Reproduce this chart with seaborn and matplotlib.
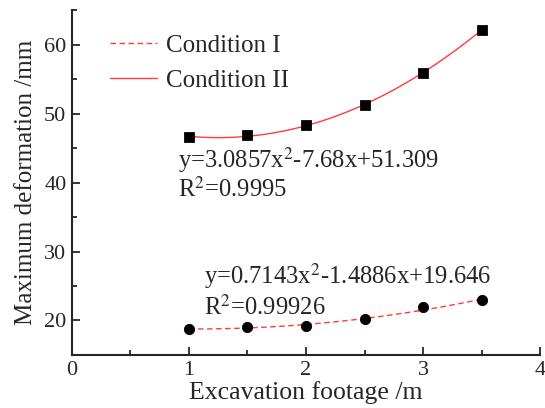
import numpy as np
import pandas as pd
import matplotlib
matplotlib.use("Agg")
import matplotlib.pyplot as plt
import seaborn as sns
from matplotlib.ticker import MultipleLocator

# Data
footage = [1.0, 1.5, 2.0, 2.5, 3.0, 3.5]
cond1 = [18.8, 19.0, 19.2, 20.2, 21.9, 22.9]
cond2 = [46.6, 46.9, 48.3, 51.2, 55.9, 62.2]
labels = ["Condition I", "Condition II"]
eq1 = ["y=0.7143x$^2$-1.4886x+19.646", "R$^2$=0.99926"]
eq2 = ["y=3.0857x$^2$-7.68x+51.309", "R$^2$=0.9995"]

df = pd.DataFrame({"footage": footage, "c1": cond1, "c2": cond2})

sns.set_style("ticks")
plt.rcParams["font.family"] = ["Liberation Serif", "DejaVu Serif"]
plt.rcParams["mathtext.fontset"] = "stix"
plt.rcParams["xtick.direction"] = "in"
plt.rcParams["ytick.direction"] = "in"

fig = plt.figure(figsize=(5.45, 4.08), dpi=100)
ax = fig.add_axes([0.132, 0.13, 0.859, 0.845])

red = "#ff3b3b"
sns.regplot(data=df, x="footage", y="c1", order=2, ci=None, scatter=False,
            label=labels[0], line_kws=dict(color=red, lw=1.0, ls=(0, (4, 2.5))), ax=ax)
sns.regplot(data=df, x="footage", y="c2", order=2, ci=None, scatter=False,
            label=labels[1], line_kws=dict(color=red, lw=1.0, ls="-"), ax=ax)
sns.scatterplot(data=df, x="footage", y="c1", marker="o", s=55, color="black",
                edgecolor="black", ax=ax, zorder=3)
sns.scatterplot(data=df, x="footage", y="c2", marker="s", s=50, color="black",
                edgecolor="black", ax=ax, zorder=3)

ax.set_xlim(0, 4)
ax.set_ylim(15, 65)
ax.xaxis.set_major_locator(MultipleLocator(1))
ax.xaxis.set_minor_locator(MultipleLocator(0.5))
ax.yaxis.set_major_locator(MultipleLocator(10))
ax.yaxis.set_minor_locator(MultipleLocator(5))
ax.tick_params(which="major", length=6, width=1.3, labelsize=16, pad=4)
ax.tick_params(which="minor", length=3.5, width=1.3)
for s in ["left", "bottom"]:
    ax.spines[s].set_linewidth(1.5)
sns.despine(ax=ax)

ax.set_xlabel("Excavation footage /m", fontsize=18.5, labelpad=1)
ax.set_ylabel("Maximum deformation /mm", fontsize=18, labelpad=5)

ax.text(0.905, 43.3, eq2[0], fontsize=17.7, va="center", ha="left")
ax.text(0.905, 39.0, eq2[1], fontsize=17.7, va="center", ha="left")
ax.text(1.13, 26.4, eq1[0], fontsize=17.7, va="center", ha="left")
ax.text(1.13, 21.9, eq1[1], fontsize=17.7, va="center", ha="left")

handles, texts = ax.get_legend_handles_labels()
keep = [(h, t) for h, t in zip(handles, texts) if t in labels]
ax.legend([h for h, t in keep], [t for h, t in keep], loc="upper left",
          frameon=False, fontsize=18, handlelength=1.9, handletextpad=0.35,
          borderpad=0, borderaxespad=0, bbox_to_anchor=(0.081, 0.93),
          labelspacing=0.5)

fig.savefig("out.png", dpi=100)
